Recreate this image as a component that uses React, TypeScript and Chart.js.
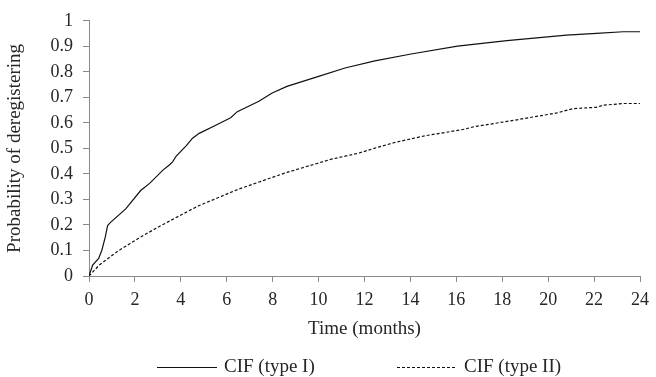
import React, { useEffect, useRef } from "react";
import { Chart, registerables } from "chart.js";

Chart.register(...registerables);

// Time (months) and CIF values
const typeIMonths = [0, 0.16, 0.42, 0.56, 0.71, 0.81, 0.95, 1.6, 2.25, 2.64, 3.22, 3.5, 3.65, 3.8, 4.23, 4.51, 4.8, 5.5, 6.17, 6.46, 7.4, 7.98, 8.62, 10.0, 11.15, 12.45, 14.03, 16.05, 18.2, 20.8, 22.1, 23.27, 24];
const typeIValues = [0, 0.043, 0.069, 0.101, 0.153, 0.198, 0.211, 0.263, 0.335, 0.363, 0.415, 0.435, 0.448, 0.47, 0.51, 0.54, 0.559, 0.59, 0.62, 0.644, 0.685, 0.717, 0.743, 0.782, 0.815, 0.843, 0.870, 0.901, 0.922, 0.944, 0.951, 0.957, 0.957];

const typeIIMonths = [0, 0.45, 1.3, 2.2, 2.9, 3.5, 4.51, 4.8, 6.53, 8.62, 10.57, 11.73, 12.6, 13.31, 14.61, 16.34, 16.77, 18.5, 20.38, 21.1, 22.1, 22.4, 23.27, 24];
const typeIIValues = [0, 0.043, 0.10, 0.15, 0.186, 0.215, 0.263, 0.276, 0.341, 0.406, 0.458, 0.481, 0.505, 0.523, 0.549, 0.575, 0.585, 0.610, 0.639, 0.656, 0.661, 0.669, 0.676, 0.676];

const seriesLabels = ["CIF (type I)", "CIF (type II)"];
const xTitle = "Time (months)";
const yTitle = "Probability of deregistering";

const FONT = "'Liberation Serif', 'Times New Roman', serif";
const TEXT = "#262626";
const AXIS = "#8a8a8a";

const legendPlugin = {
  id: "lineLegend",
  afterDraw(chart: any) {
    const ctx = chart.ctx;
    const ds = chart.data.datasets;
    const y = chart.height - 10;
    const sampleW = 60;
    const starts = [157, 397];
    ctx.save();
    ctx.font = `19px ${FONT}`;
    ctx.textBaseline = "middle";
    ctx.textAlign = "left";
    ds.forEach((d: any, i: number) => {
      const x0 = starts[i];
      ctx.beginPath();
      ctx.strokeStyle = d.borderColor;
      ctx.lineWidth = d.borderWidth;
      ctx.setLineDash(d.borderDash || []);
      ctx.moveTo(x0, y + 0.5);
      ctx.lineTo(x0 + sampleW, y + 0.5);
      ctx.stroke();
      ctx.setLineDash([]);
      ctx.fillStyle = TEXT;
      ctx.fillText(d.label, x0 + sampleW + 7, y);
    });
    ctx.restore();
  },
};

export default function App() {
  const ref = useRef<HTMLCanvasElement>(null);
  useEffect(() => {
    document.body.style.margin = "0";
    const c = ref.current!;
    const chart = new Chart(c, {
      type: "line",
      data: {
        datasets: [
          {
            label: seriesLabels[0],
            data: typeIMonths.map((m, i) => ({ x: m, y: typeIValues[i] })),
            borderColor: "#111111",
            borderWidth: 1.2,
            pointRadius: 0,
            tension: 0,
            fill: false,
          },
          {
            label: seriesLabels[1],
            data: typeIIMonths.map((m, i) => ({ x: m, y: typeIIValues[i] })),
            borderColor: "#111111",
            borderWidth: 1.2,
            borderDash: [3, 2],
            pointRadius: 0,
            tension: 0,
            fill: false,
          },
        ],
      },
      options: {
        animation: false,
        responsive: false,
        maintainAspectRatio: false,
        layout: { padding: { top: 19, right: 12, bottom: 36.6, left: 0 } },
        plugins: { legend: { display: false }, tooltip: { enabled: false } },
        scales: {
          x: {
            type: "linear",
            min: 0,
            max: 24,
            border: { color: AXIS, width: 1 },
            grid: { drawOnChartArea: false, color: AXIS, tickLength: 6 },
            ticks: { stepSize: 2, color: TEXT, padding: 7, font: { family: FONT, size: 18 }, maxRotation: 0 },
            title: { display: true, text: xTitle, color: TEXT, font: { family: FONT, size: 19 }, padding: { top: 0, bottom: 0 } },
          },
          y: {
            min: 0,
            max: 1,
            border: { color: AXIS, width: 1 },
            grid: { drawOnChartArea: false, color: AXIS, tickLength: 6 },
            ticks: { stepSize: 0.1, color: TEXT, padding: 10, font: { family: FONT, size: 18 }, callback: (v: any) => String(Math.round(Number(v) * 10) / 10) },
            title: { display: true, text: yTitle, color: TEXT, font: { family: FONT, size: 19 }, padding: { top: 3.6, bottom: 14.1 } },
          },
        },
      },
      plugins: [legendPlugin],
    });
    return () => chart.destroy();
  }, []);
  return <canvas ref={ref} width={656} height={377} style={{ display: "block" }} />;
}
